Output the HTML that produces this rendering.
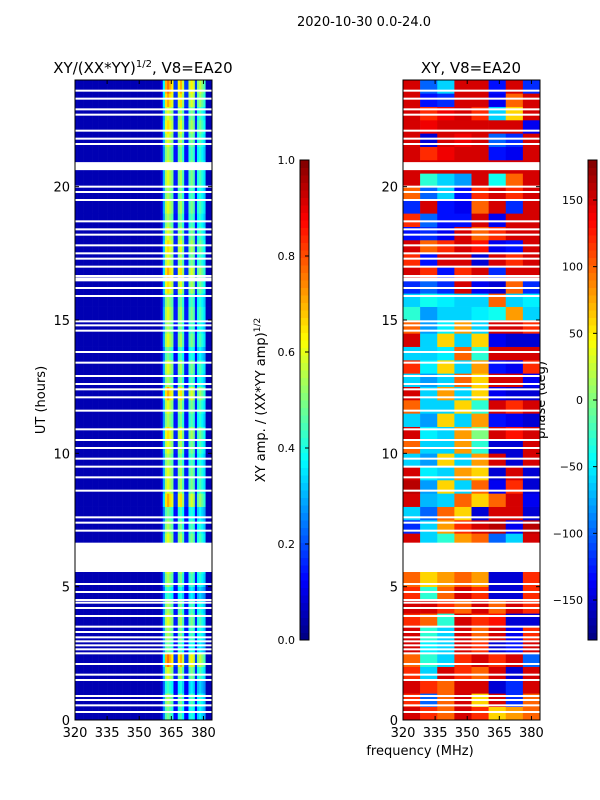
<!DOCTYPE html>
<html><head><meta charset="utf-8"><style>
body{margin:0;background:#fff}
svg{display:block;font-family:"DejaVu Sans","Liberation Sans",sans-serif}
</style></head><body>
<svg id="fig" width="600" height="800" viewBox="0 0 600 800">
<text x="364" y="26" font-size="13" text-anchor="middle">2020-10-30 0.0-24.0</text>
<text x="143" y="73" font-size="15" text-anchor="middle">XY/(XX*YY)<tspan font-size="10" dy="-6">1/2</tspan><tspan dy="6">, V8=EA20</tspan></text>
<text x="471" y="73" font-size="15" text-anchor="middle">XY, V8=EA20</text>
<text transform="translate(45,400) rotate(-90)" font-size="13" text-anchor="middle">UT (hours)</text>
<text transform="translate(265,400) rotate(-90)" font-size="13" text-anchor="middle">XY amp. / (XX*YY amp)<tspan font-size="9" dy="-5">1/2</tspan></text>
<text transform="translate(545,400) rotate(-90)" font-size="13" text-anchor="middle">phase (deg)</text>
<text x="420" y="755" font-size="13" text-anchor="middle">frequency (MHz)</text>
<g id="g"></g>
</svg>
<script>
const freqTicks=[320,335,350,365,380];
const hourTicks=[0,5,10,15,20];
const ampTicks=[0.0,0.2,0.4,0.6,0.8,1.0];
const phaseTicks=[-150,-100,-50,0,50,100,150];
// amplitude per 1 MHz channel, 320..383
const colAmp=[0.05,0.05,0.05,0.05,0.05,0.05,0.05,0.05,0.05,0.05,0.05,0.05,0.05,0.05,0.05,0.05,
0.05,0.05,0.05,0.05,0.05,0.05,0.05,0.05,0.05,0.05,0.05,0.05,0.05,0.05,0.05,0.05,
0.05,0.05,0.05,0.05,0.05,0.05,0.05,0.05,
0.1,0.3,0.55,0.6,0.55,0.5,0.15,0.15,0.5,0.55,0.45,0.15,0.15,0.45,0.5,0.45,0.15,0.4,0.45,0.4,0.35,0.05,0.05,0.05];
// row gain per 0.5 h, 0..24
const rowGain=[0.8,0.9,0.7,1.0,1.3,0.8,0.9,1.0,0.9,0.7,0.9,1.0,0.9,1.0,0.9,0.8,1.2,1.0,1.0,0.9,1.0,1.1,0.9,1.0,
1.2,0.9,1.0,0.8,1.0,0.9,1.0,0.9,1.1,1.2,1.0,1.1,1.0,0.9,1.0,0.9,1.0,1.0,0.9,1.0,1.1,1.0,1.2,1.3];
// phase (deg) per 0.5 h row × 8 MHz segments
const phase=[
[150,120,100,150,120,60,80,100],[120,-100,100,150,60,150,-120,100],[150,120,100,150,150,-150,-120,150],[120,-60,150,120,100,150,-150,150],
[100,-30,-60,120,150,120,150,-100],[150,-50,-60,150,120,-150,-130,150],[150,-30,-60,150,100,150,-140,120],[120,100,-30,150,120,130,-150,-150],
[150,150,120,100,150,100,150,120],[120,-30,100,150,120,-150,-150,120],[100,60,80,100,80,-150,-150,120],[100,60,80,100,80,-150,-150,120],
[150,-60,-30,80,100,-100,-60,150],[150,-60,-30,80,100,-100,-60,150],[-120,-60,80,120,150,160,-140,160],[-60,-100,100,60,-150,150,150,-150],
[150,-70,-60,100,60,100,150,-140],[160,-80,60,-60,100,-140,120,-150],[150,-50,-60,80,60,-150,150,-150],[-60,-80,60,-60,80,150,-150,150],
[100,-60,-60,80,-30,-150,-150,150],[150,-50,-60,80,0,150,130,150],[-60,-80,60,-60,80,-130,-140,-150],[100,-60,-60,60,-30,150,120,150],
[150,-60,80,-60,60,-140,-150,-150],[-60,-80,-60,100,60,150,150,-140],[120,-50,60,-60,80,-130,-140,120],[-60,-60,-50,100,-30,150,150,150],
[150,-60,60,-60,60,-140,-150,-150],[100,-80,-50,80,-60,150,150,120],[-30,-80,-60,-60,-50,-40,80,-60],[-60,-40,-50,-60,-60,100,-60,-50],
[-120,-100,-120,150,-140,-150,100,-120],[150,120,-130,120,150,-120,150,150],[120,-130,150,150,-150,150,120,150],[150,100,120,150,130,-140,-130,150],
[-130,-120,-140,150,100,120,150,150],[120,-100,-130,-130,150,-140,150,150],[-120,150,-130,-140,100,150,-120,150],[100,-100,-60,-130,120,150,120,150],
[150,-30,-60,-80,150,-40,100,150],[150,150,150,150,150,150,150,150],[150,120,140,150,150,-130,-140,150],[150,-150,150,140,150,-100,-120,150],
[150,140,150,150,150,150,150,-140],[150,120,140,150,120,-60,60,150],[150,-130,-120,150,150,-140,100,150],[150,-100,-60,150,150,-130,150,-120]];
const flagLines=[0.3,0.55,0.75,0.9,1.5,1.7,2.1,2.5,2.65,2.8,2.95,3.1,3.3,3.5,3.9,4.2,4.4,4.5,4.8,5.1,7.1,7.4,7.6,8.6,9.1,9.5,9.8,10.2,10.5,10.9,11.6,12.1,12.4,12.6,12.9,13.4,13.8,14.6,14.8,14.95,15.9,16.2,16.65,17.0,17.3,17.5,17.8,18.2,18.4,18.7,19.5,19.8,20.0,21.6,21.8,22.1,22.7,22.9,23.3,23.6];
const flagBands=[[5.55,6.65],[20.62,20.92],[16.45,16.6]];

const NS="http://www.w3.org/2000/svg";
const G=document.getElementById('g');
function mk(t,a,p){const e=document.createElementNS(NS,t);for(const k in a)e.setAttribute(k,a[k]);(p||G).appendChild(e);return e;}
function jet(v){v=Math.max(0,Math.min(1,v));
 const r=Math.max(0,Math.min(1,1.5-Math.abs(4*v-3))),g=Math.max(0,Math.min(1,1.5-Math.abs(4*v-2))),b=Math.max(0,Math.min(1,1.5-Math.abs(4*v-1)));
 return `rgb(${Math.round(r*255)},${Math.round(g*255)},${Math.round(b*255)})`;}
const Y0=720,Y1=80,F0=320,F1=384;
const yS=h=>Y0-(h/24)*(Y0-Y1);
function panel(x0,name){
 const xS=f=>x0+(f-F0)/(F1-F0)*137;
 const grp=mk('g',{});
 
 
 return {xS,grp};
}
// left panel
const L=panel(75,'amp-heatmap');
for(let r=0;r<rowGain.length;r++){for(let c=0;c<colAmp.length;c++){
 const e=mk('rect',{x:L.xS(F0+c),y:yS((r+1)*0.5),width:L.xS(F0+c+1)-L.xS(F0+c)+0.3,height:yS(r*0.5)-yS((r+1)*0.5)+0.3,fill:jet(0.05+(colAmp[c]-0.05)*rowGain[r])},L.grp);
 
 
}}
// right panel
const R=panel(403,'phase-heatmap');
for(let r=0;r<phase.length;r++){for(let c=0;c<phase[r].length;c++){
 const e=mk('rect',{x:R.xS(F0+c*8),y:yS((r+1)*0.5),width:R.xS(F0+c*8+8)-R.xS(F0+c*8)+0.3,height:yS(r*0.5)-yS((r+1)*0.5)+0.3,fill:jet((phase[r][c]+180)/360)},R.grp);
 
 
}}
// flags
[75,403].forEach(x0=>{
 flagLines.forEach(h=>{const e=mk('rect',{x:x0,y:yS(h)-1,width:137,height:2,fill:'#fff'});
  
  });
 flagBands.forEach(b=>{const e=mk('rect',{x:x0,y:yS(b[1]),width:137,height:yS(b[0])-yS(b[1]),fill:'#fff'});
  
  });
});
// axes
[[75,'left'],[403,'right']].forEach(([x0,nm])=>{
 const fr=mk('rect',{x:x0,y:Y1,width:137,height:Y0-Y1,fill:'none',stroke:'#000','stroke-width':1});
 
 
 const xS=f=>x0+(f-F0)/(F1-F0)*137;
 freqTicks.forEach(f=>{mk('line',{x1:xS(f),x2:xS(f),y1:Y0,y2:Y0-4,stroke:'#000'});mk('line',{x1:xS(f),x2:xS(f),y1:Y1,y2:Y1+4,stroke:'#000'});
  const t=mk('text',{x:xS(f),y:Y0+17,'font-size':13,'text-anchor':'middle'});t.textContent=f;
  
  });
 hourTicks.forEach(h=>{mk('line',{x1:x0,x2:x0+4,y1:yS(h),y2:yS(h),stroke:'#000'});mk('line',{x1:x0+133,x2:x0+137,y1:yS(h),y2:yS(h),stroke:'#000'});
  const t=mk('text',{x:x0-5,y:yS(h)+5,'font-size':13,'text-anchor':'end'});t.textContent=h;
  
  });
});
// colorbars
function cbar(x0,lo,hi,ticks,name,fmt){
 const grp=mk('g',{});
 
 
 const n=64;for(let i=0;i<n;i++){mk('rect',{x:x0,y:640-(i+1)*480/n,width:9,height:480/n+0.5,fill:jet((i+0.5)/n)},grp);}
 mk('rect',{x:x0,y:160,width:9,height:480,fill:'none',stroke:'#000'},grp);
 const yv=v=>640-(v-lo)/(hi-lo)*480;
 ticks.forEach(v=>{mk('line',{x1:x0+5,x2:x0+9,y1:yv(v),y2:yv(v),stroke:'#000'},grp);
  const t=mk('text',{x:x0-5,y:yv(v)+4,'font-size':11,'text-anchor':'end'},grp);t.textContent=fmt(v);
  
  });
}
cbar(300,0,1,ampTicks,'amp-colorbar',v=>v.toFixed(1));
cbar(588,-180,180,phaseTicks,'phase-colorbar',v=>v<0?'\u2212'+(-v):String(v));
</script>
</body></html>
